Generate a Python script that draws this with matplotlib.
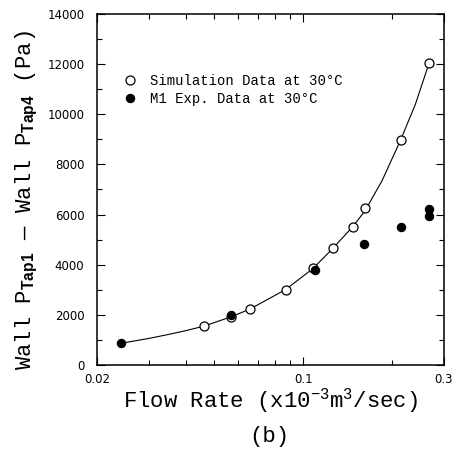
import matplotlib
matplotlib.use('Agg')
import matplotlib.pyplot as plt
from matplotlib.ticker import FixedLocator, NullFormatter, MultipleLocator

plt.rcParams['mathtext.fontset'] = 'custom'
plt.rcParams['mathtext.rm'] = 'Liberation Mono'
plt.rcParams['mathtext.it'] = 'Liberation Mono:italic'
plt.rcParams['mathtext.bf'] = 'Liberation Sans:bold'

# simulation data (open circles)
sim_q = [0.0461, 0.0569, 0.066, 0.0872, 0.108, 0.126, 0.147, 0.162, 0.214, 0.267]
sim_dp = [1550, 1920, 2230, 3010, 3870, 4650, 5510, 6250, 8980, 12040]

# M1 experiment (filled circles)
exp_q = [0.0241, 0.0569, 0.1096, 0.161, 0.214, 0.266, 0.266]
exp_dp = [865, 2000, 3780, 4820, 5510, 6220, 5950]

# fitted curve
curve_q = [0.0241, 0.03, 0.035, 0.04, 0.0461, 0.0569, 0.066, 0.0872, 0.108,
           0.126, 0.147, 0.162, 0.185, 0.214, 0.24, 0.267]
curve_dp = [865, 1060, 1220, 1370, 1550, 1920, 2230, 3010, 3850,
            4650, 5510, 6150, 7350, 8980, 10400, 12040]

fig = plt.figure(figsize=(4.61, 4.51), dpi=100)
ax = fig.add_axes([0.2104, 0.1907, 0.7527, 0.7783])

ax.plot(curve_q, curve_dp, 'k-', lw=0.8)
ax.plot(sim_q, sim_dp, 'o', mfc='white', mec='black', ms=6.5, mew=0.9,
        label='Simulation Data at 30°C')
ax.plot(exp_q, exp_dp, 'o', mfc='black', mec='black', ms=5.8,
        label='M1 Exp. Data at 30°C')

ax.set_xscale('log')
ax.set_xlim(0.02, 0.3)
ax.set_ylim(0, 14000)
ax.xaxis.set_major_locator(FixedLocator([0.02, 0.1, 0.3]))
ax.xaxis.set_minor_locator(FixedLocator([0.03, 0.04, 0.05, 0.06, 0.07, 0.08, 0.09, 0.2]))
ax.xaxis.set_minor_formatter(NullFormatter())
ax.set_xticklabels(['0.02', '0.1', '0.3'])
ax.yaxis.set_major_locator(MultipleLocator(2000))
ax.yaxis.set_minor_locator(MultipleLocator(1000))

ax.tick_params(which='both', direction='in', top=True, right=True,
               labelsize=8.5, width=0.8)
ax.tick_params(which='major', length=6)
ax.tick_params(axis='y', which='major', pad=9)
ax.tick_params(axis='x', which='major', pad=6)
ax.tick_params(which='minor', length=3.5)
for s in ax.spines.values():
    s.set_linewidth(1.1)

ax.set_ylabel(r'Wall P$_{\mathbf{Tap1}}$ — Wall P$_{\mathbf{Tap4}}$ (Pa)',
              family='Liberation Mono', fontsize=16)
ax.yaxis.set_label_coords(-0.165, 0.47)
ax.set_xlabel(r'Flow Rate (x10$^{-3}$m$^{3}$/sec)',
              family='Liberation Mono', fontsize=16, labelpad=0)
fig.text(0.585, 0.02, '(b)', family='Liberation Mono', fontsize=16, ha='center')

ax.legend(loc='upper left', bbox_to_anchor=(0.04, 0.865), frameon=False,
          prop={'family': 'Liberation Mono', 'size': 10}, handletextpad=0.95,
          labelspacing=0.28, handlelength=1.0)

fig.savefig('out.png', dpi=100)
